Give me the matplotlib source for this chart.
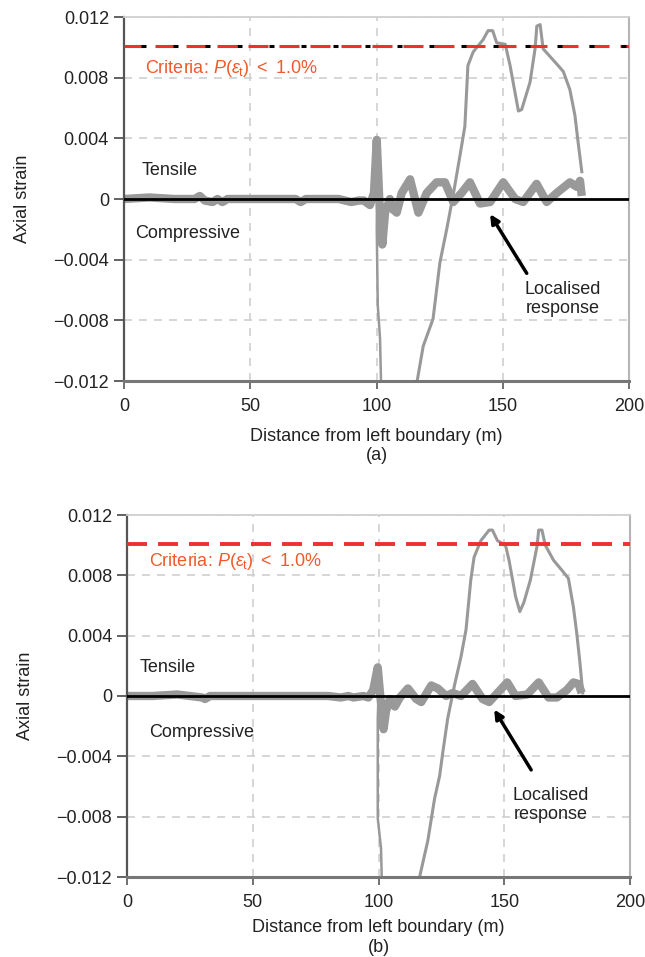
import numpy as np
import matplotlib
matplotlib.use('Agg')
import matplotlib.pyplot as plt

# ---- data ----
x_ticks = [0, 50, 100, 150, 200]
y_ticks = [-0.012, -0.008, -0.004, 0, 0.004, 0.008, 0.012]
y_tick_labels = ['\u22120.012', '\u22120.008', '\u22120.004', '0', '0.004', '0.008', '0.012']
criteria = 0.0101

# (a) mean strain band
band_x_a = [0, 10, 20, 28, 30, 32, 35, 37, 39, 41, 55, 68, 70, 72, 85, 90, 93, 95, 97.4, 99, 100.1,
            101.1, 102.3, 103.4, 105.3, 106.6, 108, 110, 113.3, 116.6, 119.9, 123.8, 127.1, 130.4,
            133.7, 137, 141, 145, 150.2, 154.9, 158.1, 163.4, 167.4, 171.4, 176.6, 179.3, 180.6, 181.3]
band_y_a = [0, 0.0001, 0, 0, 0.0002, -0.0001, -0.0002, 0, -0.0002, 0, 0, 0, -0.0002, 0, 0, -0.0002,
            -0.0001, -0.0001, -0.0004, 0.0004, 0.0039, 0.0, -0.003, -0.0009, 0, -0.0007, -0.0009,
            0.0004, 0.0013, -0.0009, 0.0004, 0.0011, 0.0011, -0.0002, 0.0004, 0.0011, -0.0003,
            -0.0002, 0.0011, 0, -0.0002, 0.001, -0.0002, 0.0004, 0.0011, 0.0008, 0.0012, 0.0002]
# (a) upper response curve
env_x_a = [116.0, 118.5, 122.4, 125.1, 127.8, 130.3, 133.0, 135.0, 136.2, 138.3, 142.2, 144.2, 146.0,
           147.6, 151.0, 152.9, 156.2, 157.5, 160.8, 162.8, 163.5, 164.8, 166.0, 171.4, 174.0, 176.6,
           178.6, 179.8, 181.3]
env_y_a = [-0.0121, -0.0097, -0.0079, -0.0042, -0.0020, 0.0002, 0.0028, 0.0048, 0.0088, 0.0097, 0.0105,
           0.0111, 0.0111, 0.0103, 0.0102, 0.0088, 0.0058, 0.0059, 0.0077, 0.0099, 0.0114, 0.0115,
           0.0099, 0.0089, 0.0084, 0.0072, 0.0055, 0.0038, 0.0018]
drop_x_a = [100.2, 100.1, 100.5, 101.4, 101.8]
drop_y_a = [0.0, -0.002, -0.007, -0.0092, -0.0121]

# (b)
band_x_b = [0, 10, 20, 30, 31, 33, 50, 70, 80, 85, 88, 90, 94, 96, 97.9, 99.7, 100.6, 102, 103, 104.5,
            106.5, 108.5, 111.7, 115, 117, 121, 123.6, 126.9, 129.5, 132.8, 137.4, 141.4, 144, 147.3,
            151.2, 154.5, 159.1, 163.7, 167.6, 170.9, 174.9, 177.5, 179.5, 180.8]
band_y_b = [0, 0, 0.0001, -0.0001, -0.0002, 0, 0, 0, 0, -0.0001, 0, -0.0001, 0, -0.0001, 0.0004,
            0.0019, 0.0002, -0.0022, -0.001, -0.0002, -0.0007, -0.0001, 0.0005, -0.0002, -0.0004,
            0.0007, 0.0005, 0, 0.0002, 0, 0.0008, -0.0002, -0.0004, 0.0002, 0.0009, 0, 0.0001,
            0.0009, -0.0001, -0.0001, 0.0004, 0.0009, 0.0008, 0.0002]
env_x_b = [116.2, 119.6, 122.3, 124.3, 125.6, 127.5, 130.2, 132.8, 134.8, 136.7, 138.0, 140.7, 144.0,
           145.3, 147.3, 150.5, 151.9, 154.5, 156.2, 157.8, 160.4, 163.0, 163.7, 165.0, 166.3, 169.6,
           173.6, 175.5, 177.5, 178.8, 180.1, 181.2]
env_y_b = [-0.0121, -0.0096, -0.0068, -0.0053, -0.0037, -0.0015, 0.0007, 0.0026, 0.0044, 0.0077,
           0.0092, 0.0103, 0.0110, 0.0110, 0.0103, 0.0100, 0.0090, 0.0066, 0.0056, 0.0062, 0.0077,
           0.0099, 0.0110, 0.0110, 0.0100, 0.0090, 0.0082, 0.0078, 0.0059, 0.0042, 0.0022, 0.0002]
drop_x_b = [100.0, 99.7, 99.7, 101.0, 101.3]
drop_y_b = [0.0, -0.0015, -0.0081, -0.0101, -0.0121]

plt.rcParams['font.family'] = ['Liberation Sans', 'DejaVu Sans']
plt.rcParams['mathtext.fontset'] = 'custom'
plt.rcParams['mathtext.rm'] = 'Liberation Sans'
plt.rcParams['mathtext.it'] = 'Liberation Sans:italic'
plt.rcParams['lines.scale_dashes'] = False

FS = 13
TXT = '#222222'
GREY = '#999999'
px = 0.72  # points per pixel at dpi 100

fig = plt.figure(figsize=(6.45, 9.57), dpi=100)
ax1 = fig.add_axes([124/645, 1-381/957, 505/645, 364/957])
ax2 = fig.add_axes([127/645, 1-877/957, 503/645, 362/957])

panels = [
    (ax1, band_x_a, band_y_a, env_x_a, env_y_a, drop_x_a, drop_y_a, '(a)', 455,
     dict(crit=(8.3, 0.0086), tens=(7, 0.0019), comp=(4.4, -0.0023),
          head=(145, -0.001), tail=(159.5, -0.0049), loc=(173.9, -0.0066)), True),
    (ax2, band_x_b, band_y_b, env_x_b, env_y_b, drop_x_b, drop_y_b, '(b)', 947,
     dict(crit=(8.9, 0.0089), tens=(5.2, 0.0019), comp=(8.8, -0.0024),
          head=(146, -0.0009), tail=(160.7, -0.0049), loc=(168.6, -0.0072)), False),
]

for ax, bx, by, ex, ey, dx, dy, tag, tag_y, pos, artefact in panels:
    ax.set_xlim(0, 200)
    ax.set_ylim(-0.012, 0.012)
    ax.set_xticks(x_ticks)
    ax.set_yticks(y_ticks)
    ax.set_yticklabels(y_tick_labels)
    ax.tick_params(axis='y', length=10*px, width=1.3, color='#555555', pad=5*px,
                   labelsize=FS, labelcolor=TXT)
    ax.tick_params(axis='x', length=8*px, width=1.3, color='#666666', pad=9*px,
                   labelsize=FS, labelcolor=TXT)
    ax.grid(True, color='#cfcfcf', lw=1.2, linestyle=(0, (8*px, 7*px)), zorder=0)
    ax.set_axisbelow(True)
    ax.spines['top'].set_color('#d0d0d0')
    ax.spines['right'].set_color('#b5b5b5')
    ax.spines['left'].set_color('#555555')
    ax.spines['bottom'].set_color('#777777')
    ax.spines['top'].set_linewidth(1.3)
    ax.spines['right'].set_linewidth(1.5)
    ax.spines['left'].set_linewidth(1.6)
    ax.spines['bottom'].set_linewidth(2.2)

    ax.plot(bx, by, color=GREY, lw=6.0, solid_joinstyle='round', solid_capstyle='butt', zorder=2)
    ax.plot(ex, ey, color=GREY, lw=2.2, zorder=2)
    ax.plot(dx, dy, color=GREY, lw=1.8, zorder=2)
    ax.axhline(0, color='black', lw=2.0, zorder=3)

    lw_red = 2.2 if artefact else 2.8
    ax.axhline(criteria, color='#ee3030', lw=lw_red, linestyle=(0, (20*px, 11*px)), zorder=4)
    if artefact:
        ax.axhline(criteria, color='black', lw=lw_red,
                   linestyle=(15*px, (5*px, 27*px)), zorder=5)

    ax.text(*pos['crit'], r'Criteria: $P(\varepsilon_{\mathrm{t}})$ $<$ 1.0%', color='#f05a2a',
            fontsize=FS, ha='left', va='center')
    ax.text(*pos['tens'], 'Tensile', color=TXT, fontsize=FS, ha='left', va='center')
    ax.text(*pos['comp'], 'Compressive', color=TXT, fontsize=FS, ha='left', va='center')
    ax.annotate('', xy=pos['head'], xytext=pos['tail'],
                arrowprops=dict(arrowstyle='-|>', color='black', lw=2.5, mutation_scale=13,
                                shrinkA=0, shrinkB=0), zorder=6)
    ax.text(*pos['loc'], 'Localised\nresponse', color=TXT, fontsize=FS, ha='center',
            va='center', linespacing=1.15)

    ax.set_xlabel('Distance from left boundary (m)', fontsize=FS, color=TXT)
    ax.set_ylabel('Axial strain', fontsize=FS, color=TXT)
    ax.yaxis.set_label_coords(-0.185, 0.5)
    bb = ax.get_position()
    fig.text(bb.x0 + bb.width/2, 1 - tag_y/957, tag, fontsize=FS, color=TXT,
             ha='center', va='center')

ax1.xaxis.set_label_coords(0.5, -0.128)
ax2.xaxis.set_label_coords(0.5, -0.117)

fig.savefig('out.png', dpi=100)
